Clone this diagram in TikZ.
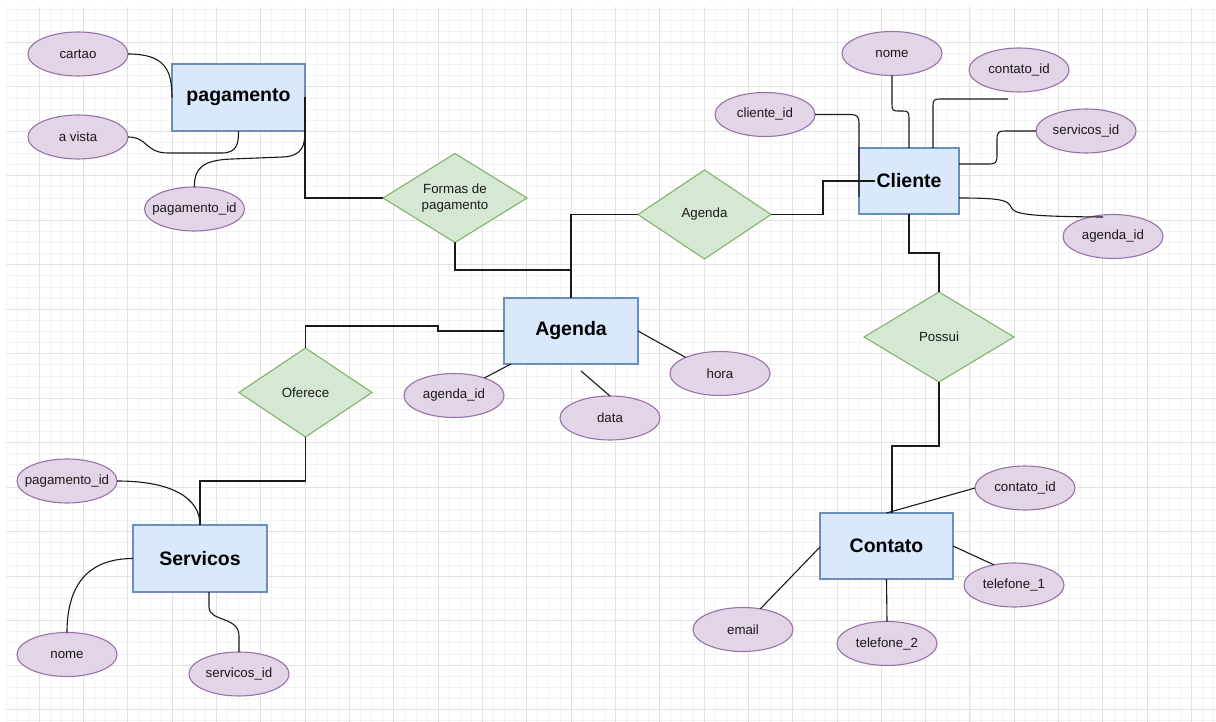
\documentclass[tikz,border=0pt]{standalone}
\usepackage{fontspec}
\setmainfont{Liberation Sans}
\usetikzlibrary{shapes.geometric,calc}
\definecolor{entF}{HTML}{DAE8FC}
\definecolor{entD}{HTML}{6C8EBF}
\definecolor{attF}{HTML}{E1D5E7}
\definecolor{attD}{HTML}{9673A6}
\definecolor{relF}{HTML}{D5E8D4}
\definecolor{relD}{HTML}{82B366}
\definecolor{gridmin}{HTML}{F3F3F3}
\definecolor{gridmaj}{HTML}{E2E2E2}
\definecolor{ink}{HTML}{1A1A1A}
\newcommand\ctext[1]{\makebox[0pt]{#1}}
\begin{document}
\begin{tikzpicture}[x=1pt,y=-1pt,
  entity/.style={draw=entD,fill=entF,line width=1.1pt,rectangle,inner sep=0pt,outer sep=0pt,
    minimum width=133pt,minimum height=67pt,font=\fontsize{19.5}{23}\selectfont\bfseries,text=black},
  attr/.style={draw=attD,fill=attF,line width=1.1pt,ellipse,inner sep=0pt,outer sep=0pt,
    minimum width=100pt,minimum height=44pt,font=\fontsize{13.3}{16}\selectfont,text=ink},
  rel/.style={draw=relD,fill=relF,line width=1.1pt,diamond,inner sep=0pt,outer sep=0pt,
    minimum width=133pt,minimum height=89pt,font=\fontsize{13.3}{16}\selectfont,text=ink},
  conn/.style={draw=ink,line width=1.1pt},
  gmin/.style={draw=gridmin,line width=0.9pt},
  gmaj/.style={draw=gridmaj,line width=0.9pt}]
\useasboundingbox (0,0) rectangle (1216,722);
\fill[white] (0,0) rectangle (1216,722);
% grid
\foreach \i in {0,...,109} \draw[gmin] ({6+11.08*\i},7) -- ({6+11.08*\i},722);
\foreach \j in {0,...,64} \draw[gmin] (6,{9+11.12*\j}) -- (1216,{9+11.12*\j});
\foreach \i in {0,...,26} \draw[gmaj] ({39.2+44.32*\i},7) -- ({39.2+44.32*\i},722);
\foreach \j in {0,...,15} \draw[gmaj] (6,{42.4+44.47*\j}) -- (1216,{42.4+44.47*\j});

% entities
\node[entity] (pag) at (238.5,97.5) {pagamento};
\node[entity,minimum width=100pt,minimum height=66pt] (cli) at (909,181) {Cliente};
\node[entity,minimum width=134pt,minimum height=66pt] (age) at (571,331) {Agenda};
\node[entity,minimum width=134pt] (ser) at (200,558.5) {Servicos};
\node[entity,minimum height=66pt] (con) at (886.5,546) {Contato};

% relationships
\node[rel,minimum width=144pt] (for) at (455,198) {\ctext{\begin{tabular}{@{}c@{}}Formas de\\pagamento\end{tabular}}};
\node[rel] (agr) at (704.5,214.5) {\ctext{Agenda}};
\node[rel] (ofe) at (305.5,392.5) {\ctext{Oferece}};
\node[rel,minimum width=150pt,minimum height=90pt] (pos) at (939,337) {\ctext{Possui}};

% attributes
\node[attr] (cartao) at (78,54) {\ctext{cartao}};
\node[attr] (avista) at (78,137) {\ctext{a vista}};
\node[attr] (pagid) at (194.5,209) {\ctext{pagamento\_id}};
\node[attr] (nomeC) at (892,53.5) {\ctext{nome}};
\node[attr] (contC) at (1019,70) {\ctext{contato\_id}};
\node[attr] (cliid) at (765,114.5) {\ctext{cliente\_id}};
\node[attr] (servC) at (1086,131) {\ctext{servicos\_id}};
\node[attr] (agidC) at (1113,236.5) {\ctext{agenda\_id}};
\node[attr] (agid) at (454,395.5) {\ctext{agenda\_id}};
\node[attr] (data) at (610,418) {\ctext{data}};
\node[attr] (hora) at (720,373.5) {\ctext{hora}};
\node[attr] (pagidS) at (67,481) {\ctext{pagamento\_id}};
\node[attr] (nomeS) at (67,654.5) {\ctext{nome}};
\node[attr] (servidS) at (239,674) {\ctext{servicos\_id}};
\node[attr] (contid) at (1025,488) {\ctext{contato\_id}};
\node[attr] (tel1) at (1014,585) {\ctext{telefone\_1}};
\node[attr] (tel2) at (887,643.5) {\ctext{telefone\_2}};
\node[attr] (email) at (743,629.5) {\ctext{email}};

\coordinate (cfree) at (1008,99);

% pagamento connectors
\draw[conn] (cartao.east) .. controls (165,54) and (172,70) .. (pag.west);
\draw[conn] (avista.east) .. controls (148,137) and (145,153) .. (168,153) -- (222,153) .. controls (238,153) and (238.5,142) .. (pag.south);
\draw[conn] (pagid.north) .. controls (194,168) and (203,160) .. (232,159) -- (283,157) .. controls (302,156) and (305,146) .. (pag.south east);
\draw[conn] (pag.east) |- (for.west);

% relationships to Agenda
\draw[conn] (for.south) -- (455,270) -- (571,270) -- (age.north);
\draw[conn] (agr.west) -| (age.north);
\draw[conn] (agr.east) -- (823,214.5) -- (823,181) -- ([xshift=-34pt]cli.center);
\draw[conn] (ofe.north) -- (305.5,326) -- (438,326) |- (age.west);

% Agenda attributes
\draw[conn] ([xshift=7pt]age.south west) -- (agid.30);
\draw[conn] ([xshift=10pt,yshift=-7pt]age.south) -- (data.north);
\draw[conn] (age.east) -- (hora.155);

% Servicos
\draw[conn] (ofe.south) -- (305.5,481) -| (ser.north);
\draw[conn] (pagidS.east) .. controls (172,481) and (200,498) .. (ser.north);
\draw[conn] (nomeS.north) .. controls (67,585) and (88,558.5) .. (ser.west);
\draw[conn] ([xshift=9pt]ser.south) -- (209,607) .. controls (209,622) and (239,616) .. (239,636) -- (servidS.north);

% Cliente
\draw[conn] (cliid.east) -- (851,114.5) .. controls (857,114.5) and (859,117) .. (859,123) -- ([yshift=-16pt]cli.west);
\draw[conn] (nomeC.south) -- (892,104) .. controls (892,110) and (893,111) .. (898,111) -- (903,111) .. controls (908,111) and (909,112) .. (909,118) -- (cli.north);
\draw[conn] ([xshift=24pt]cli.north) -- (933,106) .. controls (933,100) and (934,99) .. (940,99) -- (cfree);
\draw[conn] ([yshift=17pt]cli.east) -- (989,164) .. controls (996,164) and (997,162) .. (997,156) -- (997,139) .. controls (997,132) and (999,131) .. (1005,131) -- (servC.west);
\draw[conn] ([yshift=-17pt]cli.east) .. controls (1000,198) and (1008,200) .. (1011,207) .. controls (1014,214) and (1025,216.5) .. ([xshift=-10pt,yshift=-2.5pt]agidC.north);
\draw[conn] (cli.south) -- ++(0,39) -| (pos.north);

% Contato
\draw[conn] (pos.south) -- ++(0,64) -| ([xshift=5.5pt]con.north);
\draw[conn] (con.north) -- (contid.west);
\draw[conn] (con.east) -- (tel1.135);
\draw[conn] (con.south) -- (tel2.north);
\draw[conn] ([yshift=-1pt]con.west) -- (email.50);
\end{tikzpicture}
\end{document}
